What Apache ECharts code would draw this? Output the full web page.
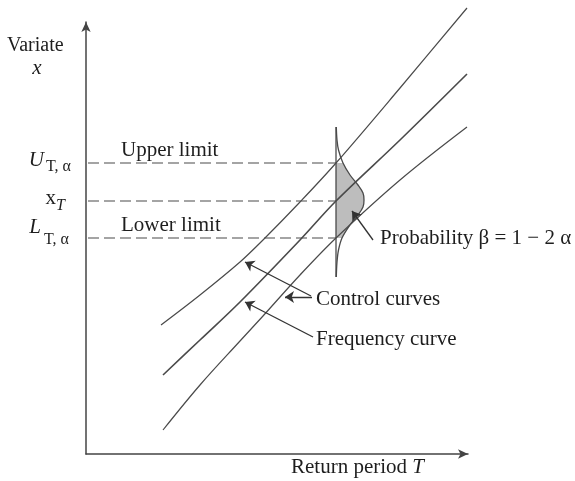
<!DOCTYPE html>
<html>
<head>
<meta charset="utf-8">
<script src="https://cdn.jsdelivr.net/npm/echarts@6/dist/echarts.min.js"></script>
<style>html,body{margin:0;padding:0;background:#fff;}#c{width:575px;height:481px;}</style>
</head>
<body>
<div id="c"></div>
<script>
// Schematic units (arbitrary): x = return period axis, y = variate axis
const upperCurve = [[75,129],[114,159],[154,192],[177,214],[214,252],[250,291],[314,366],[381,446]];
const frequencyCurve = [[77,79],[114,114],[154,152],[214,214],[250,253],[314,314],[381,380]];
const lowerCurve = [[77,24],[114,69],[154,113],[177,138],[214,179],[250,216],[314,274],[381,327]];
const limitLevels = [291, 253, 216];           // U_T,a ; x_T ; L_T,a
const dashRange = [2, 250];
const densityBaseX = 250;
const densitySpan = [177, 327];
// density offsets (horizontal) at given variate values
const densityCurve = [[0.3,327],[1,314],[2.5,304],[7,291],[14,279],[22,269],[27,261],[28,254],[27,247],[22,239],[14,229],[6,216],[2.5,204],[1,192],[0.3,177]];
const arrows = [
  [[287,214],[266,243]],
  [[225,158],[159,192]],
  [[226,157],[199,157]],
  [[227,117],[159,152]]
];

const lineColor = '#4a4a4a';
const textColor = '#1e1e1e';
const serif = '"Liberation Serif", "DejaVu Serif", serif';

const densityLine = densityCurve.map(d => [densityBaseX + d[0], d[1]]);
const shadePoints = [[densityBaseX, limitLevels[0]]]
  .concat(densityCurve.filter(d => d[1] <= limitLevels[0] && d[1] >= limitLevels[2]).map(d => [densityBaseX + d[0], d[1]]))
  .concat([[densityBaseX, limitLevels[2]]]);

const chart = echarts.init(document.getElementById('c'), null, {renderer: 'canvas'});

const curveSeries = (data, w) => ({
  type: 'line', data, smooth: 0.35, showSymbol: false, clip: false, silent: true,
  lineStyle: {color: lineColor, width: w}, z: 3
});

const series = [
  {
    type: 'custom', data: shadePoints, clip: false, silent: true, z: 1,
    renderItem: (params, api) => {
      if (params.dataIndex !== 0) return null;
      return {type: 'polygon', shape: {points: shadePoints.map(p => api.coord(p))},
        style: {fill: '#bdbdbd', stroke: null}};
    }
  },
  curveSeries(upperCurve, 1.2),
  curveSeries(frequencyCurve, 1.6),
  curveSeries(lowerCurve, 1.2),
  curveSeries(densityLine, 1.3),
  {type: 'line', data: [[densityBaseX, densitySpan[0]], [densityBaseX, densitySpan[1]]], showSymbol: false,
    clip: false, silent: true, lineStyle: {color: lineColor, width: 1.3}, z: 3}
];
limitLevels.forEach(y => series.push({
  type: 'line', data: [[dashRange[0], y], [dashRange[1], y]], showSymbol: false, silent: true, clip: false,
  lineStyle: {color: lineColor, width: 1.2, type: [11, 5]}, z: 2
}));
series.push({
  type: 'lines', coordinateSystem: 'cartesian2d', silent: true, z: 4,
  symbol: ['none', 'arrow'], symbolSize: [6, 9],
  lineStyle: {color: '#333', width: 1.3, opacity: 1, curveness: 0},
  data: arrows.map(a => ({coords: a}))
});

const T = (text, x, y, opts) => Object.assign({
  type: 'text', x, y, silent: true, z: 10,
  style: Object.assign({text, fill: textColor, font: '21px ' + serif, align: 'left', verticalAlign: 'middle'}, opts || {})
});

chart.setOption({
  animation: false,
  backgroundColor: '#fff',
  grid: {left: 86, right: 107, top: 22, bottom: 27},
  xAxis: {type: 'value', min: 0, max: 382, axisTick: {show: false}, axisLabel: {show: false}, splitLine: {show: false},
    axisLine: {lineStyle: {color: '#444', width: 1.5}, symbol: ['none', 'arrow'], symbolSize: [7, 10]}},
  yAxis: {type: 'value', min: 0, max: 432, axisTick: {show: false}, axisLabel: {show: false}, splitLine: {show: false},
    axisLine: {lineStyle: {color: '#444', width: 1.5}, symbol: ['none', 'arrow'], symbolSize: [7, 10]}},
  series,
  graphic: [
    T('Variate', 7, 46, {font: '20px ' + serif}),
    T('x', 37, 68, {font: 'italic 21px ' + serif, align: 'center'}),
    T('U', 44, 160, {font: 'italic 21px ' + serif, align: 'right'}),
    T('T, α', 46, 167, {font: '16px ' + serif}),
    T('x', 56, 198, {align: 'right'}),
    T('T', 56, 206, {font: 'italic 16px ' + serif}),
    T('L', 41, 227, {font: 'italic 21px ' + serif, align: 'right'}),
    T('T, α', 44, 240, {font: '16px ' + serif}),
    T('Upper limit', 121, 150),
    T('Lower limit', 121, 225),
    T('Probability β = 1 − 2 α', 380, 238),
    T('Control curves', 316, 299),
    T('Frequency curve', 316, 339),
    {type: 'text', x: 291, y: 467, silent: true, z: 10,
      style: {text: '{a|Return period }{b|T}', verticalAlign: 'middle', align: 'left',
        rich: {a: {font: '21px ' + serif, fill: textColor}, b: {font: 'italic 21px ' + serif, fill: textColor}}}}
  ]
});
</script>
</body>
</html>
